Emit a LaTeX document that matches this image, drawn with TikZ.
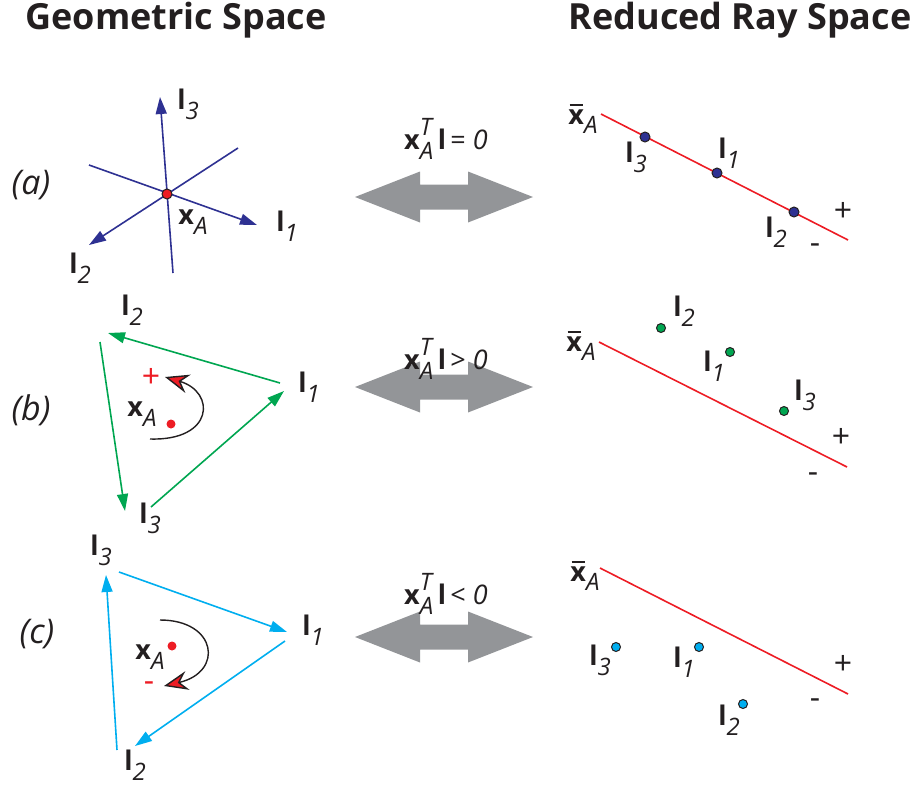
\documentclass[tikz,border=0pt]{standalone}
\usepackage{fontspec}
\setmainfont{Open Sans}
\usetikzlibrary{arrows.meta, positioning}
\definecolor{inkblack}{RGB}{35,31,32}
\definecolor{geonavy}{RGB}{46,49,146}
\definecolor{geogreen}{RGB}{0,166,81}
\definecolor{geocyan}{RGB}{0,174,239}
\definecolor{rayred}{RGB}{237,28,36}
\definecolor{arrowgray}{RGB}{147,149,152}
\newcommand{\labfont}{\fontsize{27}{30}\selectfont}
\newcommand{\subf}[1]{\raisebox{-0.36em}{\fontsize{24}{24}\selectfont\itshape #1}}
\newcommand{\lv}[1]{\textbf{l}\subf{#1}}
\newcommand{\xa}{\textbf{x}\subf{A}}
\newlength\xbarw
\newcommand{\xbara}{\settowidth{\xbarw}{\textbf{x}}\rlap{\hspace{0.08\xbarw}\rule[0.68em]{0.84\xbarw}{0.07em}}\textbf{x}\subf{A}}
\newcommand{\xat}{\textbf{x}\rlap{\raisebox{0.5em}{\fontsize{24}{24}\selectfont\itshape T}}\subf{A}\,\textbf{l}\,}
\begin{document}
\begin{tikzpicture}[x=1pt, y=-1pt,
  lab/.style={font=\labfont, text=inkblack, inner sep=0pt},
  title/.style={font=\fontsize{36}{40}\selectfont\bfseries, text=inkblack, inner sep=0pt},
  geoline/.style={line width=1.6pt, -{Triangle[length=17pt,width=11pt]}},
  bigarrow/.style={fill=arrowgray},
  rayline/.style={draw=rayred, line width=1.6pt},
  raydot/.style={circle, draw=inkblack, line width=1pt, minimum size=10pt, inner sep=0pt},
  turnarrow/.style={draw=inkblack, line width=1.4pt, -{Stealth[length=24pt,width=19pt,inset=8pt,fill=rayred]}},
  sign/.style={font=\fontsize{32}{32}\selectfont, text=inkblack, inner sep=0pt},
  rowlab/.style={font=\fontsize{34}{36}\selectfont\itshape, text=inkblack, inner sep=0pt}
]
  \useasboundingbox (0,0) rectangle (913,790);

  % column titles
  \node[title] (geotitle) at (176,20) {Geometric Space};
  \node[title] (raytitle) at (740,20) {Reduced Ray Space};

  % row labels
  \node[rowlab] (rowa) at (31,185) {(a)};
  \node[rowlab] (rowb) at (31,410) {(b)};
  \node[rowlab] (rowc) at (37,634) {(c)};

  % (a) three lines through x_A
  \coordinate (a3s) at (173,273); \coordinate (a3e) at (160,97);
  \coordinate (a1s) at (89,165);  \coordinate (a1e) at (257,225);
  \coordinate (a2s) at (238,148); \coordinate (a2e) at (89,245);
  \draw[geoline, geonavy] (a3s) -- (a3e);
  \draw[geoline, geonavy] (a1s) -- (a1e);
  \draw[geoline, geonavy] (a2s) -- (a2e);
  \node[circle, fill=rayred, draw=inkblack, line width=1pt, minimum size=10pt, inner sep=0pt] (pa) at (167,194) {};
  \node[lab] (pala) at (193,222) {\xa};
  \node[lab] (a3l) at (188,104) {\lv{3}};
  \node[lab] (a1l) at (287,226) {\lv{1}};
  \node[lab] (a2l) at (80,268) {\lv{2}};

  % (b) positive triangle
  \coordinate (b1) at (280,383);  \coordinate (b2) at (108,333);
  \coordinate (b2s) at (100,342); \coordinate (b3) at (125,511);
  \coordinate (b3s) at (151,507); \coordinate (b1e) at (284,391);
  \draw[geoline, geogreen] (b1) -- (b2);
  \draw[geoline, geogreen] (b2s) -- (b3);
  \draw[geoline, geogreen] (b3s) -- (b1e);
  \node[lab] (b2l) at (132,310) {\lv{2}};
  \node[lab] (b1l) at (309,387) {\lv{1}};
  \node[lab] (b3l) at (150,518) {\lv{3}};
  \node[circle, fill=rayred, minimum size=9pt, inner sep=0pt] (pb) at (171,424) {};
  \node[lab] (pbla) at (142,414) {\xa};
  \coordinate (bts) at (150,439); \coordinate (bte) at (165,377);
  \draw[turnarrow] (bts) .. controls (214,441) and (216,392) .. (bte);
  \node[sign, text=rayred] (bplus) at (151,378) {+};

  % (c) negative triangle
  \coordinate (c3) at (119,572);  \coordinate (c1) at (287,632);
  \coordinate (c1s) at (285,641); \coordinate (c2) at (135,746);
  \coordinate (c2s) at (117,750); \coordinate (c3e) at (106,575);
  \draw[geoline, geocyan] (c3) -- (c1);
  \draw[geoline, geocyan] (c1s) -- (c2);
  \draw[geoline, geocyan] (c2s) -- (c3e);
  \node[lab] (c3l) at (101,550) {\lv{3}};
  \node[lab] (c1l) at (313,630) {\lv{1}};
  \node[lab] (c2l) at (135,765) {\lv{2}};
  \node[circle, fill=rayred, minimum size=9pt, inner sep=0pt] (pc) at (172,646) {};
  \node[lab] (pcla) at (150,657) {\xa};
  \coordinate (cts) at (160,620); \coordinate (cte) at (164,686);
  \draw[turnarrow] (cts) .. controls (217,620) and (224,672) .. (cte);
  \node[sign, text=rayred] (cminus) at (149,687) {-};

  % double arrows and relations
  \foreach \y/\name in {197/arra, 387/arrb, 637/arrc}
    \fill[bigarrow] (444,\y) +(-89,0) -- +(-24,-25.5) -- +(-24,-12.5) -- +(24,-12.5)
      -- +(24,-25.5) -- +(89,0) -- +(24,25.5) -- +(24,12.5) -- +(-24,12.5) -- +(-24,25.5) -- cycle;
  \node[lab] (rela) at (446,139) {\xat= \textit{0}};
  \node[lab] (relb) at (446,359) {\xat> \textit{0}};
  \node[lab] (relc) at (446,594) {\xat< \textit{0}};

  % (a) ray space
  \coordinate (ras) at (601,114); \coordinate (rae) at (848,240);
  \draw[rayline] (ras) -- (rae);
  \node[raydot, fill=geonavy] (ra3) at (645,137) {};
  \node[raydot, fill=geonavy] (ra1) at (717,173) {};
  \node[raydot, fill=geonavy] (ra2) at (794,212) {};
  \node[lab] (raxl) at (583,119) {\xbara};
  \node[lab] (ra3l) at (636,157) {\lv{3}};
  \node[lab] (ra1l) at (729,153) {\lv{1}};
  \node[lab] (ra2l) at (776,232) {\lv{2}};
  \node[sign] (raplus) at (843,212) {+};
  \node[sign] (raminus) at (815,249) {-};

  % (b) ray space
  \coordinate (rbs) at (599,342); \coordinate (rbe) at (847,467);
  \draw[rayline] (rbs) -- (rbe);
  \node[raydot, fill=geogreen, minimum size=9pt] (rb2) at (661,328) {};
  \node[raydot, fill=geogreen, minimum size=9pt] (rb1) at (730,352) {};
  \node[raydot, fill=geogreen, minimum size=9pt] (rb3) at (784,411) {};
  \node[lab] (rbxl) at (581,346) {\xbara};
  \node[lab] (rb2l) at (684,311) {\lv{2}};
  \node[lab] (rb1l) at (714,366) {\lv{1}};
  \node[lab] (rb3l) at (805,395) {\lv{3}};
  \node[sign] (rbplus) at (841,438) {+};
  \node[sign] (rbminus) at (813,478) {-};

  % (c) ray space
  \coordinate (rcs) at (600,568); \coordinate (rce) at (848,694);
  \draw[rayline] (rcs) -- (rce);
  \node[raydot, fill=geocyan, minimum size=9pt] (rc3) at (616,647) {};
  \node[raydot, fill=geocyan, minimum size=9pt] (rc1) at (699,647) {};
  \node[raydot, fill=geocyan, minimum size=9pt] (rc2) at (743,704) {};
  \node[lab] (rcxl) at (585,576) {\xbara};
  \node[lab] (rc3l) at (600,660) {\lv{3}};
  \node[lab] (rc1l) at (684,662) {\lv{1}};
  \node[lab] (rc2l) at (729,720) {\lv{2}};
  \node[sign] (rcplus) at (843,665) {+};
  \node[sign] (rcminus) at (815,704) {-};
\end{tikzpicture}
\end{document}
